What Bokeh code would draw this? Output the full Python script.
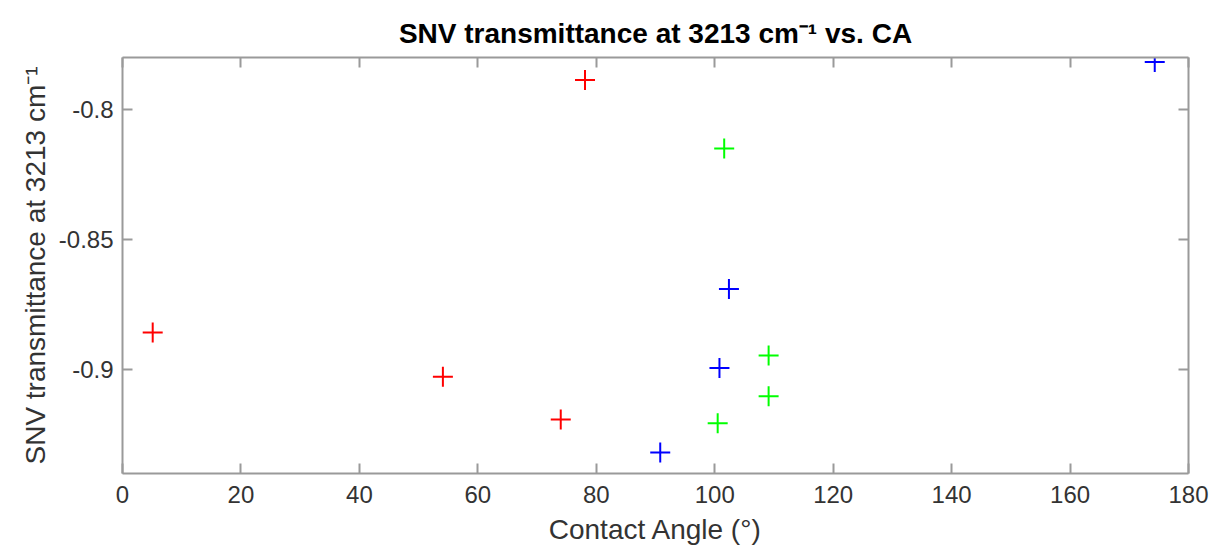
from bokeh.plotting import figure
from bokeh.models import Range1d, LinearAxis, FixedTicker
from bokeh.embed import file_html
from bokeh.resources import INLINE

# ---- data ----
red_x = [5.1, 54.1, 74.0, 78.1]
red_y = [-0.8858, -0.9028, -0.9192, -0.7887]
green_x = [101.6, 109.1, 109.1, 100.5]
green_y = [-0.8150, -0.8946, -0.9103, -0.9207]
blue_x = [174.3, 102.4, 100.8, 90.8]
blue_y = [-0.7817, -0.8690, -0.8994, -0.9319]

x_ticks = [0, 20, 40, 60, 80, 100, 120, 140, 160, 180]
y_ticks = [-0.9, -0.85, -0.8]
y_tick_labels = ["-0.9", "-0.85", "-0.8"]

title_text = "SNV transmittance at 3213 cm\u207b\u00b9 vs. CA"
x_label = "Contact Angle (\u00b0)"
y_label = "SNV transmittance at 3213 cm\u207b\u00b9"

FONT = "Liberation Sans"
TXT = "#333333"
AX = "#9a9a9a"

p = figure(width=1213, height=549, output_backend="svg", toolbar_location=None,
           x_range=Range1d(0, 180), y_range=Range1d(-0.94, -0.78),
           x_axis_location=None, y_axis_location=None,
           min_border_left=122, min_border_right=25, min_border_top=57, min_border_bottom=76)
p.xgrid.visible = False
p.ygrid.visible = False
p.outline_line_color = None
p.background_fill_color = "white"
p.border_fill_color = "white"

p.title.text = title_text
p.title.align = "center"
p.title.text_font = FONT
p.title.text_font_size = "28px"
p.title.text_font_style = "bold"
p.title.text_color = "#000000"
p.title.offset = 0
p.title.standoff = 17

def style_axis(ax):
    ax.axis_line_color = AX
    ax.axis_line_width = 2
    ax.major_tick_line_color = AX
    ax.major_tick_line_width = 2
    ax.major_tick_in = 10
    ax.major_tick_out = 0
    ax.minor_tick_line_color = None
    ax.major_label_text_font = FONT
    ax.major_label_text_color = TXT
    ax.major_label_text_font_size = "24px"
    ax.axis_label_text_font = FONT
    ax.axis_label_text_font_style = "normal"
    ax.axis_label_text_color = TXT
    ax.axis_label_text_font_size = "28px"

xb = LinearAxis(ticker=FixedTicker(ticks=x_ticks), axis_label=x_label)
style_axis(xb)
xb.major_label_standoff = 12
xb.axis_label_standoff = 8
p.add_layout(xb, "below")

xt = LinearAxis(ticker=FixedTicker(ticks=x_ticks))
style_axis(xt)
xt.major_label_overrides = {t: "" for t in x_ticks}
xt.major_label_standoff = 0
p.add_layout(xt, "above")

yl = LinearAxis(ticker=FixedTicker(ticks=y_ticks), axis_label=y_label)
style_axis(yl)
yl.major_label_overrides = {t: s for t, s in zip(y_ticks, y_tick_labels)}
yl.major_label_standoff = 9
yl.axis_label_standoff = 5
p.add_layout(yl, "left")

yr = LinearAxis(ticker=FixedTicker(ticks=y_ticks))
style_axis(yr)
yr.major_label_overrides = {t: "" for t in y_ticks}
yr.major_label_standoff = 0
p.add_layout(yr, "right")

for xs, ys, c in [(red_x, red_y, "#ff0000"), (green_x, green_y, "#00ff00"), (blue_x, blue_y, "#0000ff")]:
    p.scatter(xs, ys, marker="cross", size=20, line_color=c, line_width=2)

open("out.html", "w").write(file_html(p, INLINE))
